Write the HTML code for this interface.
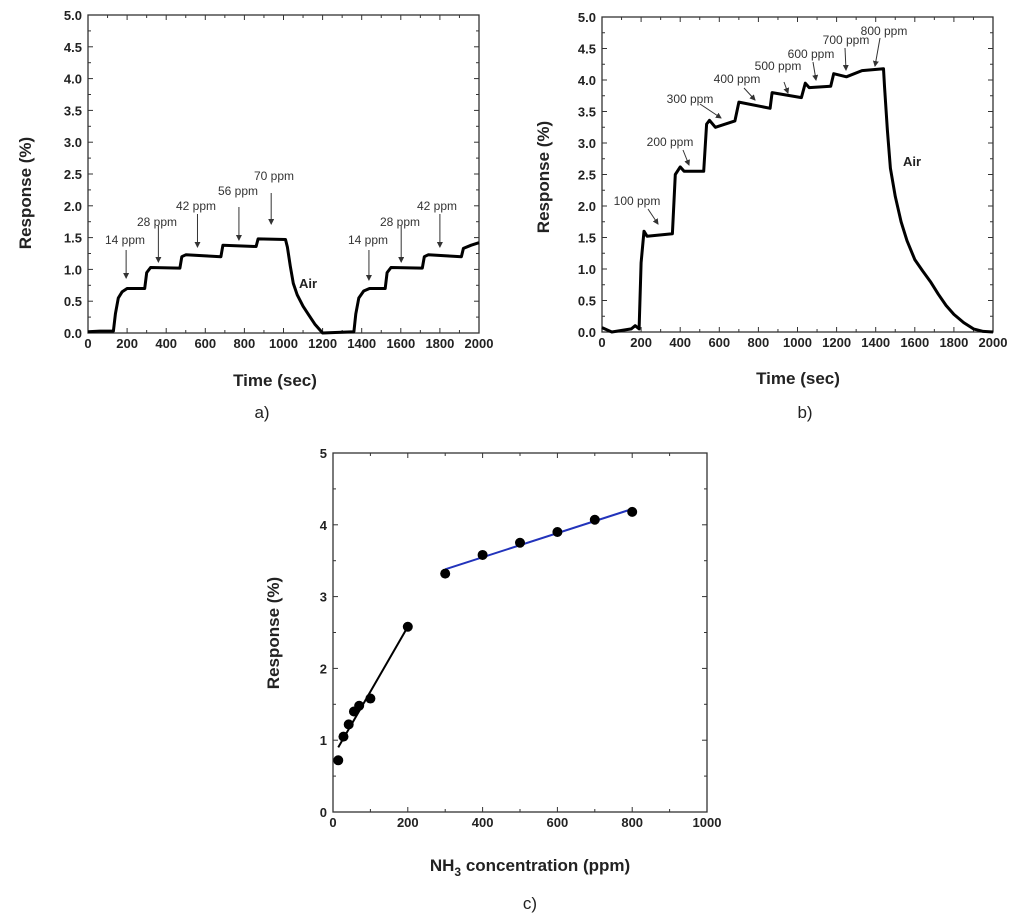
<!DOCTYPE html>
<html><head><meta charset="utf-8"><style>
body{margin:0;background:#fff;}
svg{display:block;font-family:"Liberation Sans",Arial,sans-serif;}
.tl{font-size:13px;font-weight:bold;fill:#222;}
.ti{font-size:17px;font-weight:bold;fill:#222;}
.an{font-size:12px;fill:#333;}
.cap{font-size:17px;fill:#222;}
</style></head><body>
<svg id="fig" width="1024" height="922" viewBox="0 0 1024 922" xmlns="http://www.w3.org/2000/svg"></svg>
<script>
// Panel a data (time s, response %)
const aTimes=[0,60,130,140,155,175,200,290,300,320,470,480,500,680,690,860,870,1010,1020,1035,1050,1070,1100,1130,1160,1200,1360,1370,1385,1410,1440,1520,1530,1550,1710,1720,1740,1910,1920,1960,2000];
const aValues=[0.02,0.03,0.03,0.3,0.55,0.65,0.7,0.7,0.95,1.03,1.02,1.2,1.23,1.2,1.38,1.36,1.48,1.47,1.35,1.05,0.78,0.6,0.42,0.28,0.14,0.0,0.02,0.3,0.55,0.66,0.7,0.7,0.95,1.03,1.02,1.2,1.23,1.2,1.33,1.38,1.42];
// Panel b data
const bTimes=[0,50,150,170,190,200,215,230,360,375,400,420,520,535,550,580,680,700,860,870,1020,1040,1060,1170,1185,1250,1330,1440,1445,1460,1475,1500,1530,1560,1600,1640,1680,1720,1760,1800,1850,1900,1950,2000];
const bValues=[0.07,0.0,0.05,0.1,0.05,1.1,1.6,1.52,1.56,2.5,2.62,2.55,2.55,3.3,3.36,3.25,3.35,3.65,3.55,3.8,3.72,3.95,3.88,3.9,4.1,4.05,4.15,4.18,3.9,3.2,2.6,2.15,1.75,1.45,1.15,0.97,0.8,0.6,0.42,0.28,0.15,0.05,0.01,0.0];
// Panel c data
const cConc=[14,28,42,56,70,100,200,300,400,500,600,700,800];
const cResp=[0.72,1.05,1.22,1.4,1.48,1.58,2.58,3.32,3.58,3.75,3.9,4.07,4.18];
const fit1X=[14,200], fit1Y=[0.9,2.58];
const fit2X=[300,800], fit2Y=[3.38,4.22];
const abTicksY=["0.0","0.5","1.0","1.5","2.0","2.5","3.0","3.5","4.0","4.5","5.0"];
const abTicksX=["0","200","400","600","800","1000","1200","1400","1600","1800","2000"];
const cTicksY=["0","1","2","3","4","5"];
const cTicksX=["0","200","400","600","800","1000"];
const aNotes=[["14 ppm",195,125,240,250,278],["28 ppm",360,157,222,226,262],["42 ppm",560,196,206,214,247],["56 ppm",772,238,191,207,240],["70 ppm",937,274,176,193,224],["14 ppm",1437,368,240,250,280],["28 ppm",1602,400,222,226,262],["42 ppm",1800,437,206,214,247]];
const bNotes=[["100 ppm",637,201,648,209,658,224],["200 ppm",670,142,683,150,689,165],["300 ppm",690,99,700,104,721,118],["400 ppm",737,79,744,88,755,100],["500 ppm",778,66,784,82,788,93],["600 ppm",811,54,813,62,816,80],["700 ppm",846,40,845,48,846,70],["800 ppm",884,31,880,38,875,66]];

const NS="http://www.w3.org/2000/svg";
const svg=document.getElementById('fig');
function mk(tag,attrs,parent){const e=document.createElementNS(NS,tag);for(const k in attrs)e.setAttribute(k,attrs[k]);(parent||svg).appendChild(e);return e;}
function txt(s,attrs,parent){const e=mk('text',attrs,parent);e.textContent=s;return e;}
const defs=mk('defs',{});
const mkr=mk('marker',{id:'ah',markerWidth:6,markerHeight:6,refX:5,refY:3,orient:'auto'},defs);
mk('path',{d:'M0,0 L6,3 L0,6 z',fill:'#333'},mkr);

function panel(name,L,R,T,B,xmax,ymax,xt,yt,minorX,minorY){
  const g=mk('g',{});
  
  
  const sx=v=>L+(R-L)*v/xmax, sy=v=>B-(B-T)*v/ymax;
  const fr=mk('rect',{x:L,y:T,width:R-L,height:B-T,fill:'none',stroke:'#333','stroke-width':1.3},g);
  
  const nx=xt.length-1, ny=yt.length-1;
  for(let i=0;i<=nx*minorX;i++){const v=xmax*i/(nx*minorX);const len=(i%minorX==0)?5:3;
    mk('line',{x1:sx(v),x2:sx(v),y1:B,y2:B-len,stroke:'#333'},g);mk('line',{x1:sx(v),x2:sx(v),y1:T,y2:T+len,stroke:'#333'},g);}
  for(let i=0;i<=ny*minorY;i++){const v=ymax*i/(ny*minorY);const len=(i%minorY==0)?5:3;
    mk('line',{y1:sy(v),y2:sy(v),x1:L,x2:L+len,stroke:'#333'},g);mk('line',{y1:sy(v),y2:sy(v),x1:R,x2:R-len,stroke:'#333'},g);}
  xt.forEach((s,i)=>{const t=txt(s,{x:sx(xmax*i/nx),y:B+15,'text-anchor':'middle',class:'tl'},g);});
  yt.forEach((s,i)=>{const t=txt(s,{x:L-6,y:sy(ymax*i/ny)+5,'text-anchor':'end',class:'tl'},g);});
  return {g,sx,sy};
}
function trace(p,xs,ys,name){
  const pts=xs.map((x,i)=>p.sx(x).toFixed(1)+','+p.sy(ys[i]).toFixed(1)).join(' ');
  const l=mk('polyline',{points:pts,fill:'none',stroke:'#000','stroke-width':3,'stroke-linejoin':'round'},p.g);
  
}
const pa=panel('panel-a',88,479,15,333,2000,5,abTicksX,abTicksY,2,2);
trace(pa,aTimes,aValues,'response-trace-a');
aNotes.forEach(n=>{const t=txt(n[0],{x:n[2],y:n[3]+4,'text-anchor':'middle',class:'an'},pa.g);
  mk('line',{x1:pa.sx(n[1]),x2:pa.sx(n[1]),y1:n[4],y2:n[5],stroke:'#333','stroke-width':1,'marker-end':'url(#ah)'},pa.g);});
let e=txt('Air',{x:308,y:288,'text-anchor':'middle',class:'tl'},pa.g);
e=txt('Time (sec)',{x:275,y:386,'text-anchor':'middle',class:'ti'});
e=txt('Response (%)',{x:0,y:0,'text-anchor':'middle',class:'ti',transform:'translate(31,193) rotate(-90)'});
e=txt('a)',{x:262,y:418,'text-anchor':'middle',class:'cap'});
const pb=panel('panel-b',602,993,17,332,2000,5,abTicksX,abTicksY,2,2);
trace(pb,bTimes,bValues,'response-trace-b');
bNotes.forEach(n=>{const t=txt(n[0],{x:n[1],y:n[2]+4,'text-anchor':'middle',class:'an'},pb.g);
  mk('line',{x1:n[3],y1:n[4],x2:n[5],y2:n[6],stroke:'#333','stroke-width':1,'marker-end':'url(#ah)'},pb.g);});
e=txt('Air',{x:912,y:166,'text-anchor':'middle',class:'tl'},pb.g);
e=txt('Time (sec)',{x:798,y:384,'text-anchor':'middle',class:'ti'});
e=txt('Response (%)',{x:0,y:0,'text-anchor':'middle',class:'ti',transform:'translate(549,177) rotate(-90)'});
e=txt('b)',{x:805,y:418,'text-anchor':'middle',class:'cap'});
const pc=panel('panel-c',333,707,453,812,1000,5,cTicksX,cTicksY,2,2);
let f=mk('line',{x1:pc.sx(fit1X[0]),y1:pc.sy(fit1Y[0]),x2:pc.sx(fit1X[1]),y2:pc.sy(fit1Y[1]),stroke:'#000','stroke-width':2},pc.g);

f=mk('line',{x1:pc.sx(fit2X[0]),y1:pc.sy(fit2Y[0]),x2:pc.sx(fit2X[1]),y2:pc.sy(fit2Y[1]),stroke:'#2233bb','stroke-width':2},pc.g);

cConc.forEach((x,i)=>{const c=mk('circle',{cx:pc.sx(x),cy:pc.sy(cResp[i]),r:5,fill:'#000'},pc.g);});
e=txt('Response (%)',{x:0,y:0,'text-anchor':'middle',class:'ti',transform:'translate(279,633) rotate(-90)'});
e=mk('text',{x:530,y:871,'text-anchor':'middle',class:'ti'});e.innerHTML='NH<tspan dy="5" font-size="12">3</tspan><tspan dy="-5"> concentration (ppm)</tspan>';

e=txt('c)',{x:530,y:909,'text-anchor':'middle',class:'cap'});
</script>
</body></html>
